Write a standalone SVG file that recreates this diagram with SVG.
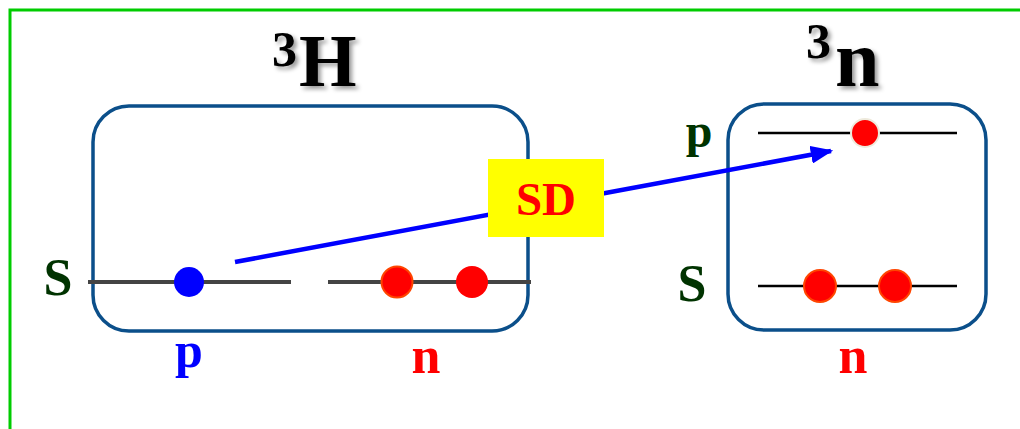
<svg xmlns="http://www.w3.org/2000/svg" width="1020" height="429" viewBox="0 0 1020 429">
<style>
.box{fill:none;stroke:#0b4f8a;stroke-width:3.5}
.lvl{stroke:#444;stroke-width:4}
.lvl2{stroke:#000;stroke-width:2.5}
.t{font-family:"Liberation Serif",serif;font-weight:bold;text-anchor:middle}
.red{fill:#ff0000;stroke:#ff4500;stroke-width:2}
.green{fill:#003300}
.ti{font-family:"Liberation Serif",serif;font-weight:bold;fill:#000}
</style>
<defs>
<filter id="sh" x="-20%" y="-20%" width="150%" height="150%">
<feDropShadow dx="3" dy="3" stdDeviation="2" flood-color="#000" flood-opacity="0.4"/>
</filter>
<marker id="ah" markerWidth="5" markerHeight="4" refX="4.5" refY="2" orient="auto" markerUnits="strokeWidth">
<path d="M0,0 L5,2 L0,4 Z" fill="#0000ff"/>
</marker>
</defs>
<path d="M10,429 V10 H1020" fill="none" stroke="#00cc00" stroke-width="3"/>
<g id="H3">
<rect class="box" x="93" y="106" width="435" height="225" rx="36"/>
<line class="lvl" x1="88" y1="282" x2="291" y2="282"/>
<line class="lvl" x1="328" y1="282" x2="531" y2="282"/>
<circle cx="189" cy="282" r="15" fill="#0000ff"/>
<circle class="red" cx="397" cy="282" r="15.5"/>
<circle cx="472" cy="282" r="16" fill="#ff0000"/>
<text class="t green" x="58" y="295" font-size="52">S</text>
<text class="t" x="189" y="367" font-size="50" fill="#0000ff">p</text>
<text class="t" x="426" y="373" font-size="52" fill="#ff0000">n</text>
<g filter="url(#sh)">
<text class="ti" x="272" y="66" font-size="50">3</text>
<text class="ti" x="299" y="86" font-size="74">H</text>
</g>
</g>
<g id="n3">
<rect class="box" x="728" y="104" width="258" height="226" rx="36"/>
<line class="lvl2" x1="758" y1="133" x2="957" y2="133"/>
<line class="lvl2" x1="758" y1="286" x2="957" y2="286"/>
<circle cx="865" cy="133" r="14" fill="#ff0000" stroke="#eeeadc" stroke-width="2"/>
<circle class="red" cx="820" cy="286" r="16"/>
<circle class="red" cx="895" cy="286" r="16"/>
<text class="t green" x="699" y="147" font-size="48">p</text>
<text class="t green" x="692" y="301" font-size="52">S</text>
<text class="t" x="853" y="373" font-size="52" fill="#ff0000">n</text>
<g filter="url(#sh)">
<text class="ti" x="806" y="58" font-size="50">3</text>
<text class="ti" x="835" y="86" font-size="80">n</text>
</g>
</g>
<g id="connectors">
<line x1="235" y1="262" x2="831" y2="151" stroke="#0000ff" stroke-width="4.5" marker-end="url(#ah)"/>
</g>
<g id="SD">
<rect x="488" y="159" width="116" height="78" fill="#ffff00"/>
<text class="t" x="546" y="215" font-size="47" fill="#ff0000">SD</text>
</g>
</svg>
